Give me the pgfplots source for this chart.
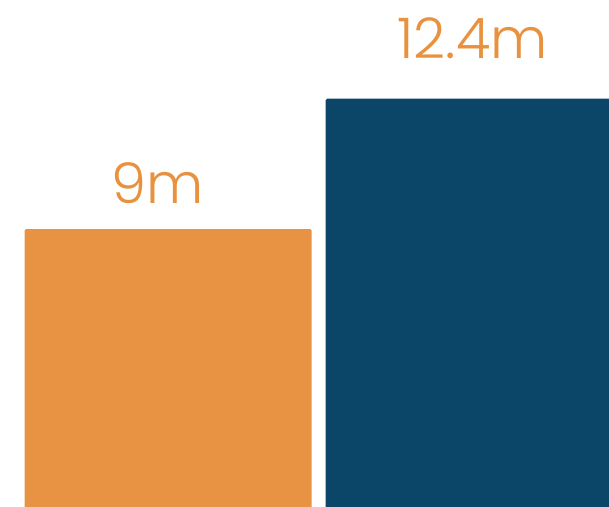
\documentclass[border=0pt]{standalone}
\usepackage{pgfplots}
\pgfplotsset{compat=1.18}
\usepackage{fontspec}
\setmainfont{Poppins}[UprightFont=* Light]
\definecolor{barorange}{HTML}{E89343}
\definecolor{barblue}{HTML}{0B4669}
\definecolor{laborange}{HTML}{E8913F}
\begin{document}
\begin{tikzpicture}
\begin{axis}[
  at={(0,-6pt)}, anchor=south west,
  width=609pt, height=512pt, scale only axis,
  xmin=0, xmax=609, ymin=1.615, ymax=14.977,
  hide axis, clip=true,
  ybar, bar width=287.2, bar shift=0pt,
]
\addplot[fill=barorange, draw=none, rounded corners=1.5pt] coordinates {(168.1,9)};
\addplot[fill=barblue, draw=none, rounded corners=1.5pt] coordinates {(469.2,12.4)};
\node[anchor=base, text=laborange, font=\fontsize{56}{56}\selectfont, inner sep=0pt] at (axis cs:158,9.679) {9m};
\node[anchor=base, text=laborange, font=\fontsize{56}{56}\selectfont, inner sep=0pt] at (axis cs:472.5,13.463) {12.4m};
\end{axis}
\pgfresetboundingbox
\useasboundingbox (0,0) rectangle (609pt,506pt);
\end{tikzpicture}
\end{document}
